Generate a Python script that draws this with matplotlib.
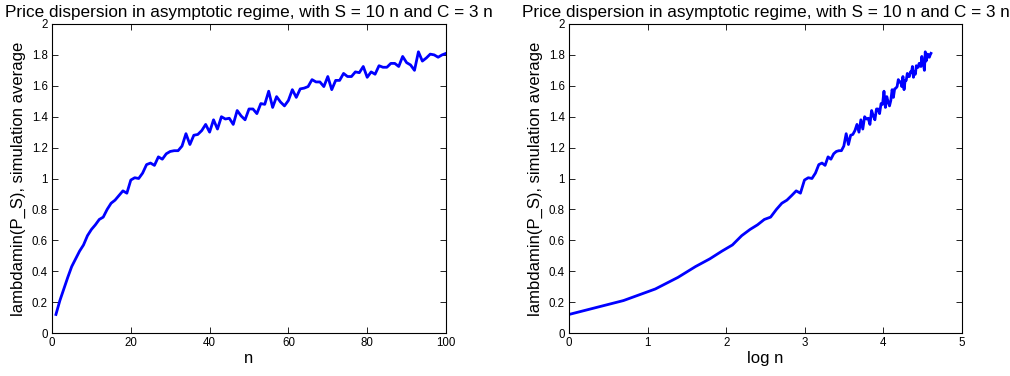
import numpy as np
import matplotlib
matplotlib.use('Agg')
import matplotlib.pyplot as plt

plt.rcParams['font.family'] = ['Liberation Sans', 'DejaVu Sans']

n = np.arange(1, 101)
lam = [0.12, 0.21, 0.285, 0.36, 0.43, 0.48, 0.53, 0.57, 0.63, 0.67,
       0.70, 0.735, 0.75, 0.80, 0.84, 0.86, 0.89, 0.92, 0.905, 0.99,
       1.005, 1.00, 1.035, 1.09, 1.10, 1.085, 1.14, 1.125, 1.16, 1.175,
       1.18, 1.18, 1.21, 1.29, 1.22, 1.28, 1.285, 1.31, 1.35, 1.30,
       1.38, 1.32, 1.40, 1.385, 1.39, 1.35, 1.44, 1.405, 1.38, 1.45,
       1.45, 1.42, 1.485, 1.48, 1.565, 1.46, 1.53, 1.495, 1.47, 1.505,
       1.575, 1.525, 1.58, 1.585, 1.595, 1.64, 1.625, 1.625, 1.595, 1.66,
       1.575, 1.635, 1.635, 1.68, 1.66, 1.66, 1.69, 1.685, 1.725, 1.655,
       1.69, 1.675, 1.73, 1.72, 1.72, 1.745, 1.745, 1.725, 1.79, 1.75,
       1.735, 1.70, 1.82, 1.76, 1.78, 1.805, 1.80, 1.785, 1.80, 1.81]

title = 'Price dispersion in asymptotic regime, with S = 10 n and C = 3 n'
ylab = 'lambdamin(P_S), simulation average'

fig = plt.figure(figsize=(10.1, 3.76), dpi=100)
ax1 = fig.add_axes([52/1010, 43/376, 394/1010, 309/376])
ax2 = fig.add_axes([569/1010, 43/376, 393/1010, 309/376])

ax1.plot(n, lam, color=(0, 0, 1), lw=2)
ax1.set_xlim(0, 100)
ax1.set_xticks(np.arange(0, 101, 20))
ax1.set_xlabel('n', fontsize=12, labelpad=1)

ax2.plot(np.log(n), lam, color=(0, 0, 1), lw=2)
ax2.set_xlim(0, 5)
ax2.set_xticks(np.arange(0, 6, 1))
ax2.set_xlabel('log n', fontsize=12, labelpad=1)

for ax in (ax1, ax2):
    ax.set_ylim(0, 2)
    ax.set_yticks(np.arange(0, 2.01, 0.2))
    ax.set_yticklabels(['0', '0.2', '0.4', '0.6', '0.8', '1', '1.2', '1.4', '1.6', '1.8', '2'])
    ax.set_ylabel(ylab, fontsize=12, labelpad=4)
    ax.set_title(title, fontsize=12.3, pad=5)
    ax.tick_params(direction='in', top=True, right=True, length=4, width=0.6,
                   labelsize=8.3, pad=3)
    for s in ax.spines.values():
        s.set_linewidth(0.8)

fig.savefig('out.png', dpi=100)
